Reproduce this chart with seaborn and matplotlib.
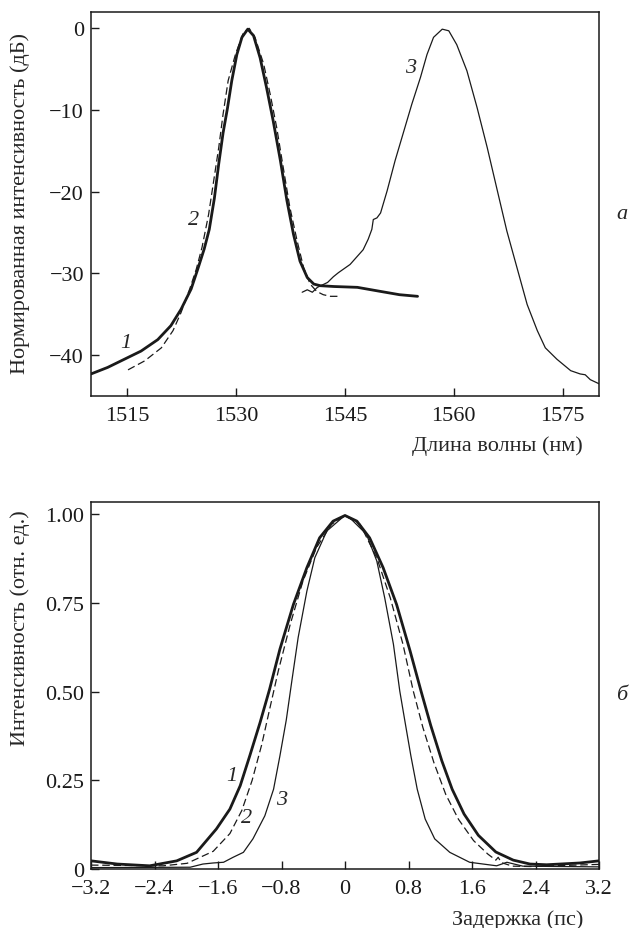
import numpy as np
import pandas as pd
import matplotlib
matplotlib.use("Agg")
import matplotlib.pyplot as plt
import seaborn as sns

# ---- Panel a: spectra (wavelength nm, normalized dB) ----
wl1 = [1510.0, 1512.3, 1514.6, 1516.9, 1519.2, 1521.0, 1522.4, 1523.8, 1524.7, 1525.6, 1526.3,
       1527.0, 1527.6, 1528.2, 1528.8, 1529.4, 1530.1, 1530.8, 1531.6, 1532.4, 1533.3, 1534.2,
       1535.1, 1536.1, 1537.0, 1537.9, 1538.8, 1539.8, 1540.7, 1541.6, 1543.5, 1546.7, 1549.9,
       1552.5, 1555.0]
db1 = [-42.3, -41.5, -40.5, -39.5, -38.1, -36.4, -34.4, -31.9, -29.5, -27.0, -24.6,
       -20.8, -16.6, -12.8, -9.8, -6.4, -3.2, -1.1, -0.1, -0.9, -3.6, -7.3,
       -11.3, -16.2, -21.1, -25.2, -28.5, -30.5, -31.3, -31.5, -31.6, -31.7, -32.2,
       -32.6, -32.8]

wl2 = [1515.1, 1517.4, 1519.7, 1521.3, 1522.4, 1523.6, 1524.5, 1525.3, 1526.2, 1526.9, 1527.6,
       1528.2, 1528.9, 1529.9, 1531.0, 1531.8, 1532.6, 1533.8, 1534.7, 1535.6, 1536.5, 1537.4,
       1538.4, 1539.3, 1540.2, 1541.1, 1542.0, 1543.0, 1544.3]
db2 = [-41.8, -40.7, -39.1, -37.0, -34.8, -31.9, -29.5, -26.8, -22.8, -18.7, -14.6,
       -10.5, -6.4, -3.2, -0.5, 0.0, -1.1, -4.4, -8.1, -12.2, -17.1, -21.9,
       -26.0, -29.3, -31.3, -32.2, -32.6, -32.8, -32.8]

wl3 = [1539.1, 1539.8, 1540.5, 1541.2, 1542.6, 1543.4, 1544.1, 1545.7, 1547.5, 1548.2, 1548.7,
       1548.9, 1549.4, 1549.9, 1550.8, 1551.9, 1553.1, 1554.2, 1555.4, 1556.3, 1557.2, 1558.4,
       1559.3, 1560.4, 1561.8, 1563.2, 1564.6, 1566.0, 1567.3, 1568.7, 1570.1, 1571.5, 1572.6,
       1574.2, 1576.1, 1577.4, 1578.1, 1578.8, 1580.0]
db3 = [-32.3, -32.0, -32.3, -31.7, -31.1, -30.4, -29.9, -28.9, -27.1, -25.8, -24.6,
       -23.4, -23.2, -22.6, -19.9, -16.2, -12.6, -9.3, -6.0, -3.2, -1.1, -0.1,
       -0.3, -2.0, -5.2, -9.7, -14.6, -19.9, -24.8, -29.3, -33.8, -37.0, -39.1,
       -40.5, -41.9, -42.3, -42.4, -43.0, -43.5]

# ---- Panel б: autocorrelation (delay ps, relative intensity) ----
t1 = [-3.2, -2.87, -2.46, -2.12, -1.87, -1.62, -1.45, -1.32, -1.20, -1.07, -0.95, -0.82, -0.65,
      -0.48, -0.32, -0.15, 0.0, 0.15, 0.31, 0.48, 0.65, 0.82, 0.96, 1.08, 1.22, 1.35, 1.50,
      1.68, 1.90, 2.12, 2.33, 2.54, 2.96, 3.2]
i1 = [0.023, 0.014, 0.009, 0.023, 0.047, 0.113, 0.169, 0.235, 0.319, 0.413, 0.507, 0.620, 0.746,
      0.850, 0.934, 0.981, 0.997, 0.981, 0.934, 0.850, 0.746, 0.615, 0.500, 0.405, 0.305, 0.225, 0.155,
      0.095, 0.048, 0.025, 0.014, 0.012, 0.017, 0.023]

t2 = [-3.2, -2.29, -1.99, -1.66, -1.45, -1.30, -1.17, -1.05, -0.95, -0.84, -0.69, -0.53, -0.36,
      -0.17, 0.0, 0.19, 0.40, 0.57, 0.73, 0.86, 0.98, 1.12, 1.27, 1.43, 1.62, 1.80, 1.90,
      1.93, 1.97, 2.11, 2.33, 3.2]
i2 = [0.011, 0.009, 0.016, 0.050, 0.100, 0.165, 0.250, 0.350, 0.450, 0.559, 0.690, 0.812, 0.906,
      0.972, 0.997, 0.972, 0.878, 0.765, 0.634, 0.502, 0.400, 0.300, 0.210, 0.140, 0.080, 0.042, 0.025,
      0.033, 0.018, 0.008, 0.007, 0.013]

t3 = [-3.2, -1.95, -1.79, -1.66, -1.53, -1.41, -1.28, -1.16, -1.01, -0.90, -0.82, -0.74, -0.67,
      -0.59, -0.48, -0.38, -0.23, -0.06, 0.0, 0.08, 0.27, 0.40, 0.50, 0.61, 0.69, 0.76, 0.83,
      0.91, 1.01, 1.13, 1.32, 1.57, 1.74, 1.91, 2.04, 2.24, 3.2]
i3 = [0.004, 0.005, 0.014, 0.017, 0.019, 0.033, 0.047, 0.085, 0.150, 0.225, 0.319, 0.420, 0.530,
      0.653, 0.784, 0.878, 0.953, 0.986, 0.997, 0.986, 0.944, 0.869, 0.765, 0.634, 0.502, 0.410, 0.319,
      0.225, 0.141, 0.085, 0.047, 0.019, 0.014, 0.009, 0.019, 0.008, 0.006]

xt_a = [1515, 1530, 1545, 1560, 1575]
yt_a = [0, -10, -20, -30, -40]
xt_b = [-3.2, -2.4, -1.6, -0.8, 0, 0.8, 1.6, 2.4, 3.2]
yt_b = [0, 0.25, 0.50, 0.75, 1.00]

sns.set_style("ticks")
plt.rcParams['font.family'] = ['Liberation Serif', 'DejaVu Serif']
plt.rcParams['axes.unicode_minus'] = True
FS = 16
INK = "#1a1a1a"

fig = plt.figure(figsize=(6.34, 9.29), dpi=100)
W, H = 634, 929
axA = fig.add_axes([91 / W, (H - 397) / H, 508 / W, 384 / H])
axB = fig.add_axes([91 / W, (H - 870) / H, 508 / W, 367 / H])

def curve(ax, x, y, lw, ls):
    df = pd.DataFrame({"x": x, "y": y})
    sns.lineplot(data=df, x="x", y="y", ax=ax, sort=False, color=INK, lw=lw,
                 linestyle=ls, estimator=None)

curve(axA, wl1, db1, 2.0, "-")
curve(axA, wl2, db2, 0.9, (0, (6, 3)))
curve(axA, wl3, db3, 0.9, "-")
curve(axB, t1, i1, 2.0, "-")
curve(axB, t2, i2, 0.9, (0, (6, 3)))
curve(axB, t3, i3, 0.9, "-")

def mlabel(v, nd):
    s = f"{v:.{nd}f}" if nd else f"{v:.0f}"
    return s.replace("-", "\u2212")

axA.set_xlim(1510, 1580)
axA.set_ylim(-45, 2)
axA.set_xticks(xt_a)
axA.set_xticklabels([mlabel(v, 0) for v in xt_a])
axA.set_yticks(yt_a)
axA.set_yticklabels([mlabel(v, 0) for v in yt_a])

axB.set_xlim(-3.2, 3.2)
axB.set_ylim(0, 1.035)
axB.set_xticks(xt_b)
axB.set_xticklabels([mlabel(v, 1) if v != 0 else "0" for v in xt_b])
axB.set_yticks(yt_b)
axB.set_yticklabels(["0" if v == 0 else f"{v:.2f}" for v in yt_b])

for ax in (axA, axB):
    ax.set_xlabel("")
    ax.set_ylabel("")
    for s in ax.spines.values():
        s.set_visible(True)
        s.set_linewidth(1.1)
        s.set_color(INK)
    ax.tick_params(direction="in", length=6, width=1.0, labelsize=FS, colors=INK,
                   top=False, right=False)
    ax.tick_params(axis="x", pad=7)
    ax.tick_params(axis="y", pad=5)

# curve labels
axA.text(1514.8, -38.4, "1", fontsize=FS, style="italic", ha="center", va="center")
axA.text(1524.1, -23.4, "2", fontsize=FS, style="italic", ha="center", va="center")
axA.text(1554.0, -4.8, "3", fontsize=FS, style="italic", ha="center", va="center")
axB.text(-1.43, 0.263, "1", fontsize=FS, style="italic", ha="center", va="center")
axB.text(-1.24, 0.146, "2", fontsize=FS, style="italic", ha="center", va="center")
axB.text(-0.80, 0.197, "3", fontsize=FS, style="italic", ha="center", va="center")

# axis labels
fig.text(20 / W, 1 - 204 / H, "Нормированная интенсивность (дБ)", rotation=90,
         ha="center", va="center", fontsize=FS)
fig.text(20 / W, 1 - 628 / H, "Интенсивность (отн. ед.)", rotation=90,
         ha="center", va="center", fontsize=FS)
fig.text(583 / W, 1 - 446 / H, "Длина волны (нм)", ha="right", va="center", fontsize=FS)
fig.text(583 / W, 1 - 920 / H, "Задержка (пс)", ha="right", va="center", fontsize=FS)

# panel letters
fig.text(622 / W, 1 - 215 / H, "а", ha="center", va="center", fontsize=FS, style="italic")
fig.text(622 / W, 1 - 695 / H, "б", ha="center", va="center", fontsize=FS, style="italic")

fig.savefig("out.png", dpi=100)
